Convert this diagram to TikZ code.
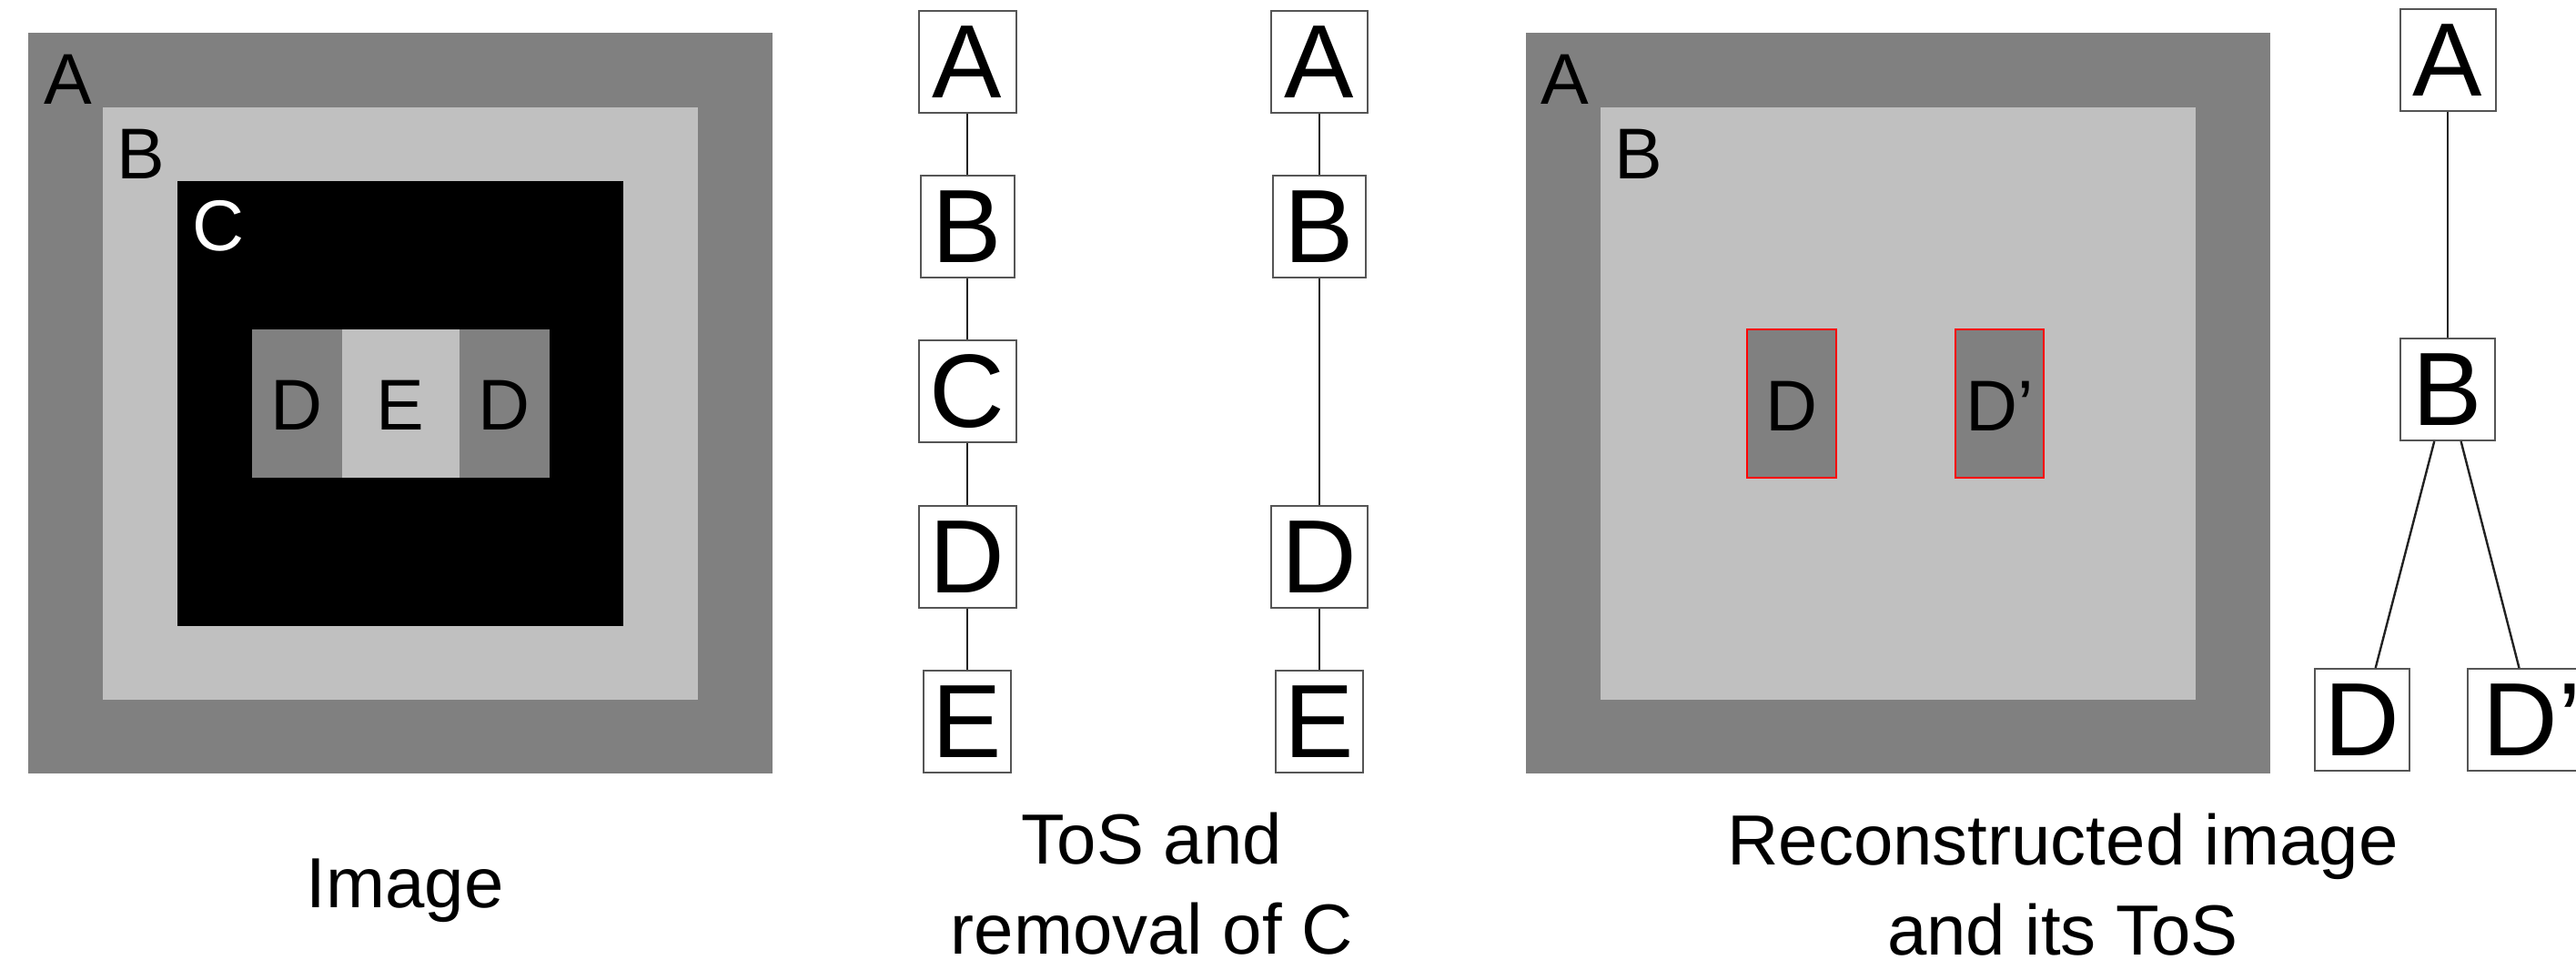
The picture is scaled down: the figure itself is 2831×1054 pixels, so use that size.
\documentclass[tikz,border=0pt]{standalone}
\usepackage{fontspec}
\setmainfont{Liberation Sans}
\definecolor{gA}{HTML}{808080}
\definecolor{gB}{HTML}{C0C0C0}
\definecolor{boxline}{HTML}{555555}
\definecolor{conn}{HTML}{222222}
\begin{document}
\begin{tikzpicture}[x=1bp,y=-1bp,
  treebox/.style={draw=boxline, line width=2bp, fill=white, inner sep=0pt,
    minimum height=112bp, font=\fontsize{114.5bp}{120bp}\selectfont},
  edge/.style={draw=conn, line width=2.4bp},
  imglabel/.style={inner sep=0pt, anchor=base west, font=\fontsize{79bp}{90bp}\selectfont},
  cell/.style={inner sep=0pt, anchor=base, font=\fontsize{79bp}{90bp}\selectfont},
  caption/.style={inner sep=0pt, align=center, font=\fontsize{78bp}{99bp}\selectfont},
  redbox/.style={draw=red, line width=2bp, fill=gA}]
\useasboundingbox (0,0) rectangle (2831,1054);

% ---------- Image ----------
\fill[gA] (31,36) rectangle (849,850);
\fill[gB] (113,118) rectangle (767,769);
\fill[black] (195,199) rectangle (685,688);
\fill[gA] (277,362) rectangle (376,525);
\fill[gB] (376,362) rectangle (505,525);
\fill[gA] (505,362) rectangle (604,525);
\node[imglabel] (la) at (48,114) {A};
\node[imglabel] (lb) at (128,196) {B};
\node[imglabel, text=white] (lc) at (211,275) {C};
\node[cell] (ld1) at (326,472) {D};
\node[cell] (le) at (440,472) {E};
\node[cell] (ld2) at (554,472) {D};
\node[caption, anchor=base] (cap1) at (445,997) {Image};

% ---------- ToS and removal of C ----------
\node[treebox, minimum width=107bp] (a1) at (1063,68) {A};
\node[treebox, minimum width=103bp] (b1) at (1063,249) {B};
\node[treebox, minimum width=107bp] (c1) at (1063,430) {C};
\node[treebox, minimum width=107bp] (d1) at (1063,612) {D};
\node[treebox, minimum width=96bp] (e1) at (1063,793) {E};
\draw[edge] (a1) -- (b1);
\draw[edge] (b1) -- (c1);
\draw[edge] (c1) -- (d1);
\draw[edge] (d1) -- (e1);

\node[treebox, minimum width=106bp] (a2) at (1450,68) {A};
\node[treebox, minimum width=102bp] (b2) at (1450,249) {B};
\node[treebox, minimum width=106bp] (d2) at (1450,612) {D};
\node[treebox, minimum width=96bp] (e2) at (1450,793) {E};
\draw[edge] (a2) -- (b2);
\draw[edge] (b2) -- (d2);
\draw[edge] (d2) -- (e2);

\node[caption, anchor=north] (cap2) at (1266,893) {ToS and\\removal of C};

% ---------- Reconstructed image ----------
\fill[gA] (1677,36) rectangle (2495,850);
\fill[gB] (1759,118) rectangle (2413,769);
\filldraw[redbox] (1920,362) rectangle (2018,525);
\filldraw[redbox] (2149,362) rectangle (2246,525);
\node[imglabel] (ra) at (1693,114) {A};
\node[imglabel] (rb) at (1774,196) {B};
\node[cell] (rd) at (1969,473) {D};
\node[cell] (rdp) at (2198,473) {D’};

\node[treebox, minimum width=105bp] (ta) at (2690,66) {A};
\node[treebox, minimum width=104bp] (tb) at (2690,428) {B};
\node[treebox, minimum width=104bp] (td) at (2596,791) {D};
\node[treebox, minimum width=142bp] (tdp) at (2783,791) {D’};
\draw[edge] (ta) -- (tb);
\draw[edge] (tb) -- (td);
\draw[edge] (tb) -- (tdp);

\node[caption, anchor=north] (cap3) at (2267,894) {Reconstructed image\\and its ToS};
\end{tikzpicture}
\end{document}
